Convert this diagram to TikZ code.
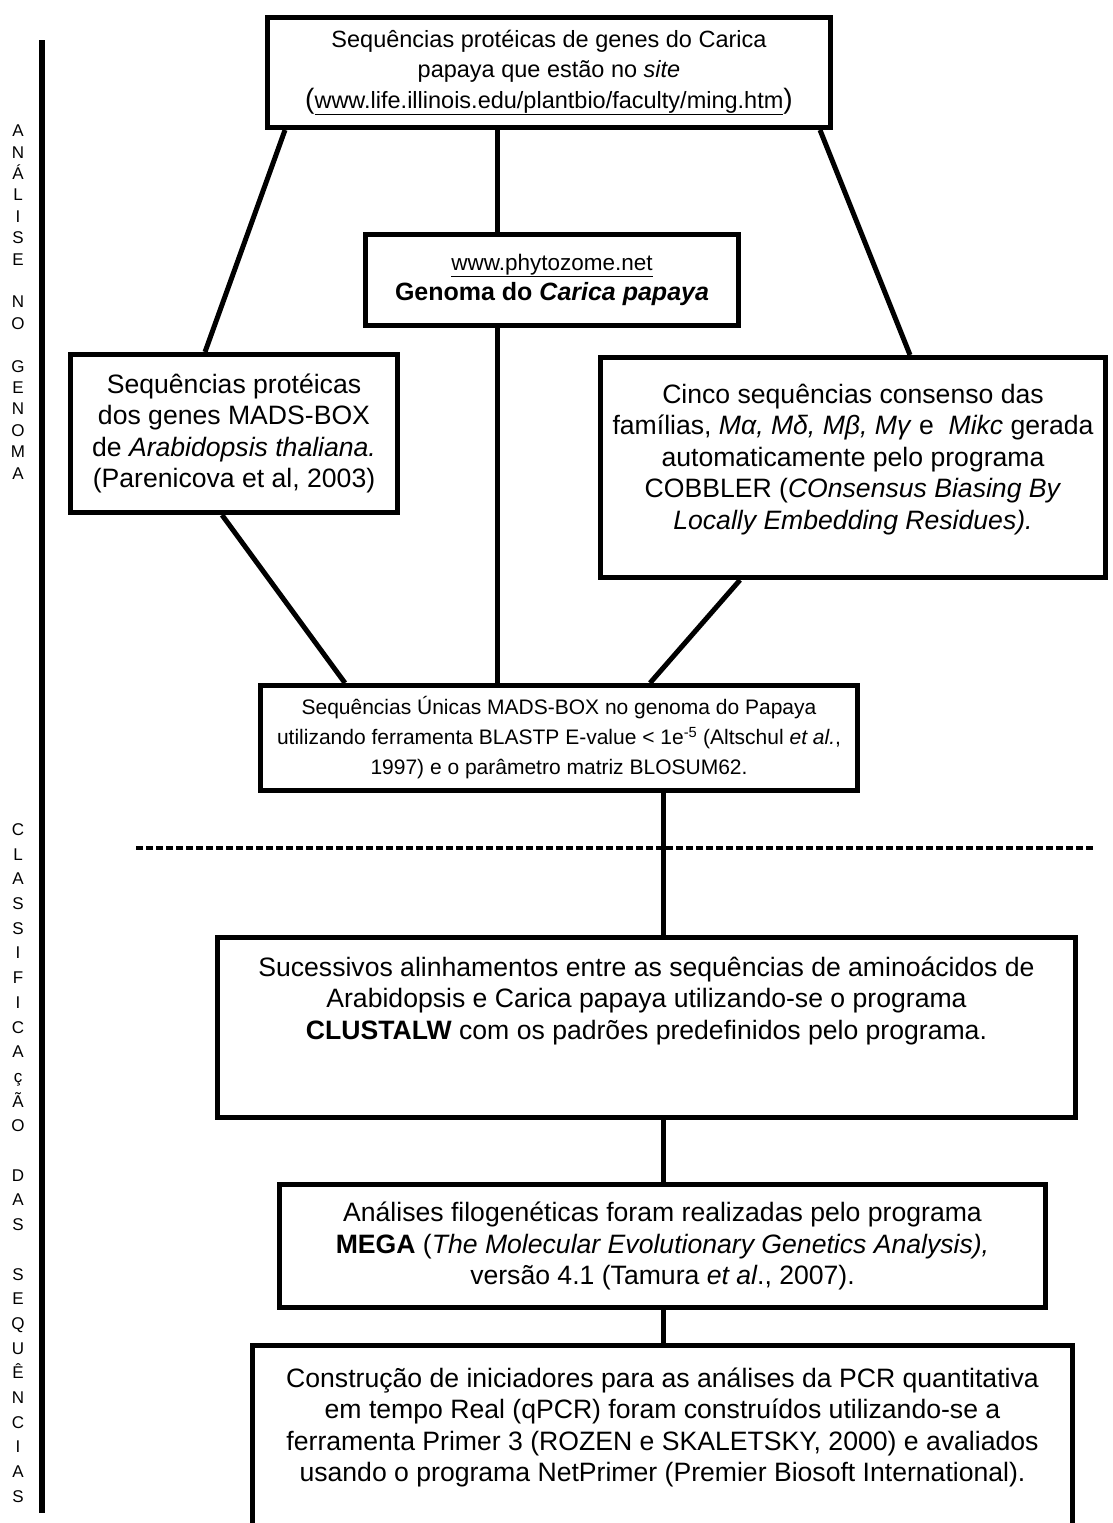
\documentclass[tikz,border=0pt]{standalone}
\usepackage{fontspec}
\setmainfont{Liberation Sans}
\usetikzlibrary{calc}
\tikzset{
  procbox/.style={draw, line width=5pt, align=center, inner sep=0pt,
    font=\fontsize{26.6}{31.5}\selectfont},
  link/.style={line width=5pt},
  sidetxt/.style={align=center, inner sep=0pt},
  sepline/.style={line width=3.5pt, dash pattern=on 7pt off 3pt},
}
\newcommand{\bigpar}[1]{{\fontsize{28}{28}\selectfont #1}}

\begin{document}
\begin{tikzpicture}[x=1pt, y=-1pt]
  \useasboundingbox (0,0) rectangle (1112,1523);
  % side bar with the two section titles
  \coordinate (barT) at (42,40);
  \coordinate (barB) at (42,1513);
  \draw[line width=6pt] (barT) -- (barB);
  \node[sidetxt, font=\fontsize{17}{21.4}\selectfont] (lblgen) at (18,302)
    {A\\N\\Á\\L\\I\\S\\E\\~\\N\\O\\~\\G\\E\\N\\O\\M\\A};
  \node[sidetxt, font=\fontsize{17}{24.7}\selectfont] (lblcls) at (18,1163)
    {C\\L\\A\\S\\S\\I\\F\\I\\C\\A\\ç\\Ã\\O\\~\\D\\A\\S\\~\\S\\E\\Q\\U\\Ê\\N\\C\\I\\A\\S};

  % genome search
  \node[procbox, minimum width=563, minimum height=110, font=\fontsize{23.5}{30.5}\selectfont]
    (site) at (549,72.5)
    {Sequências protéicas de genes do Carica\\papaya que estão no \textit{site}\\
     \bigpar{(}\underline{www.life.illinois.edu/plantbio/faculty/ming.htm}\bigpar{)}};
  \node[procbox, minimum width=373, minimum height=91, font=\fontsize{25}{30}\selectfont]
    (phyto) at (552,280)
    {{\fontsize{22.5}{22.5}\selectfont\underline{www.phytozome.net}}\\\textbf{Genoma do \textit{Carica papaya}}};
  \node[procbox, minimum width=327, minimum height=158] (arab) at (234,433.5)
    {Sequências protéicas\\dos genes MADS-BOX\\de \textit{Arabidopsis thaliana.}\\(Parenicova et al, 2003)};
  \node[procbox, minimum width=505, minimum height=220] (cons) at (853,467.5)
    {Cinco sequências consenso das\\famílias, \textit{Mα, Mδ, Mβ, Mγ} e\ \ \textit{Mikc} gerada\\
     automaticamente pelo programa\\COBBLER (\textit{COnsensus Biasing By}\\
     \textit{Locally Embedding Residues).}\\[-10pt]\mbox{}};
  \node[procbox, minimum width=597, minimum height=105, font=\fontsize{21}{30}\selectfont]
    (blast) at (559,738)
    {Sequências Únicas MADS-BOX no genoma do Papaya\\
     utilizando ferramenta BLASTP E-value < 1e\textsuperscript{-5} (Altschul \textit{et al.},\\
     1997) e o parâmetro matriz BLOSUM62.};

  % classification
  \node[procbox, minimum width=858, minimum height=180] (clustal) at (646.5,1027.5)
    {Sucessivos alinhamentos entre as sequências de aminoácidos de\\
     Arabidopsis e Carica papaya utilizando-se o programa\\
     \textbf{CLUSTALW} com os padrões predefinidos pelo programa.\\[28pt]\mbox{}};
  \node[procbox, minimum width=766, minimum height=123] (mega) at (662.5,1246)
    {Análises filogenéticas foram realizadas pelo programa\\
     \textbf{MEGA} (\textit{The Molecular Evolutionary Genetics Analysis),}\\
     versão 4.1 (Tamura \textit{et al}., 2007).};
  \node[procbox, minimum width=820, minimum height=190] (primer) at (662.5,1440)
    {Construção de iniciadores para as análises da PCR quantitativa\\
     em tempo Real (qPCR) foram construídos utilizando-se a\\
     ferramenta Primer 3 (ROZEN e SKALETSKY, 2000) e avaliados\\
     usando o programa NetPrimer (Premier Biosoft International).\\[-1pt]\mbox{}};

  % connectors
  \coordinate (axis) at (497,0);
  \coordinate (spine) at (663,0);
  \draw[link] ($(site.south west)+(20,0)$) -- ($(arab.north west)+(137,0)$);
  \draw[link] (site.south -| axis) -- (phyto.north -| axis);
  \draw[link] ($(site.south east)+(-13,0)$) -- ($(cons.north west)+(312,0)$);
  \draw[link] (phyto.south -| axis) -- (blast.north -| axis);
  \draw[link] ($(arab.south west)+(154,0)$) -- ($(blast.north west)+(87,0)$);
  \draw[link] ($(cons.south west)+(142,0)$) -- ($(blast.north west)+(392,0)$);
  \draw[link] (blast.south -| spine) -- (clustal.north -| spine);
  \draw[link] (clustal.south -| spine) -- (mega.north -| spine);
  \draw[link] (mega.south -| spine) -- (primer.north -| spine);

  % separator between the two stages
  \coordinate (sepL) at (136,848);
  \coordinate (sepR) at (1095,848);
  \draw[sepline] (sepL) -- (sepR);
\end{tikzpicture}
\end{document}
